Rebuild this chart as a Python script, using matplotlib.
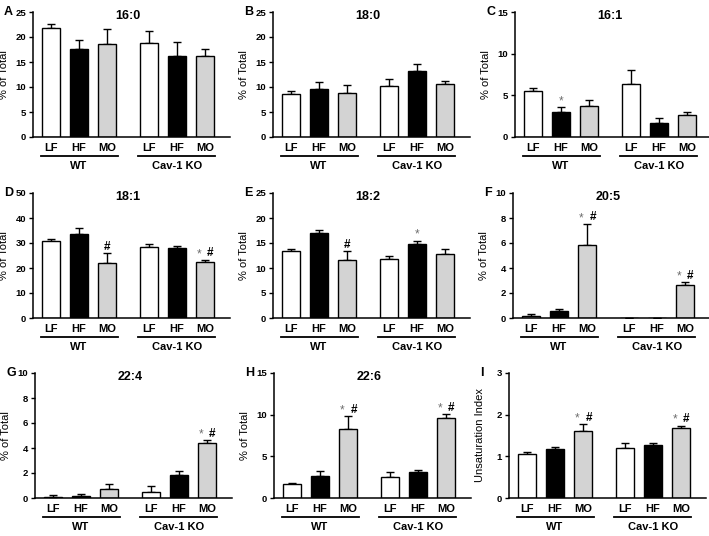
import numpy as np
import matplotlib
matplotlib.use("Agg")
import matplotlib.pyplot as plt

plt.rcParams['font.family'] = ['Liberation Sans', 'DejaVu Sans']
plt.rcParams['font.weight'] = 'bold'

diets = ["LF", "HF", "MO", "LF", "HF", "MO"]
groups = ["WT", "Cav-1 KO"]
bar_colors = ["white", "black", "#d3d3d3"] * 2

# order of values: WT LF, WT HF, WT MO, KO LF, KO HF, KO MO
fa_16_0 = [21.9, 17.7, 18.7, 18.9, 16.3, 16.3]
fa_16_0_err = [0.8, 1.8, 3.0, 2.4, 2.6, 1.3]
fa_18_0 = [8.7, 9.7, 8.9, 10.3, 13.3, 10.6]
fa_18_0_err = [0.5, 1.4, 1.5, 1.4, 1.3, 0.7]
fa_16_1 = [5.48, 3.0, 3.68, 6.32, 1.72, 2.6]
fa_16_1_err = [0.4, 0.6, 0.8, 1.76, 0.6, 0.36]
fa_18_1 = [30.7, 33.5, 22.0, 28.3, 28.0, 22.4]
fa_18_1_err = [1.0, 2.4, 4.0, 1.3, 0.9, 0.9]
fa_18_2 = [13.4, 17.1, 11.6, 11.8, 14.8, 12.9]
fa_18_2_err = [0.5, 0.5, 1.8, 0.6, 0.7, 0.9]
fa_20_5 = [0.19, 0.53, 5.82, 0.0, 0.0, 2.65]
fa_20_5_err = [0.13, 0.18, 1.72, 0.0, 0.0, 0.21]
fa_22_4 = [0.08, 0.13, 0.74, 0.48, 1.88, 4.37]
fa_22_4_err = [0.16, 0.21, 0.4, 0.52, 0.26, 0.26]
fa_22_6 = [1.63, 2.62, 8.29, 2.58, 3.10, 9.64]
fa_22_6_err = [0.16, 0.67, 1.55, 0.59, 0.31, 0.4]
unsat_index = [1.06, 1.17, 1.61, 1.20, 1.28, 1.69]
unsat_index_err = [0.04, 0.06, 0.16, 0.11, 0.05, 0.05]

positions = np.array([0, 1, 2, 3.5, 4.5, 5.5])

# letter, title, ylabel, ymax, ystep, values, errors, star idx, hash idx, axes box (left, top px)
panels = [
    ("A", "16:0", "% of Total", 25, 5, fa_16_0, fa_16_0_err, [], [], (33, 12)),
    ("B", "18:0", "% of Total", 25, 5, fa_18_0, fa_18_0_err, [], [], (273, 12)),
    ("C", "16:1", "% of Total", 15, 5, fa_16_1, fa_16_1_err, [1], [], (515, 12)),
    ("D", "18:1", "% of Total", 50, 10, fa_18_1, fa_18_1_err, [5], [2, 5], (33, 193)),
    ("E", "18:2", "% of Total", 25, 5, fa_18_2, fa_18_2_err, [4], [2], (273, 193)),
    ("F", "20:5", "% of Total", 10, 2, fa_20_5, fa_20_5_err, [2, 5], [2, 5], (513, 193)),
    ("G", "22:4", "% of Total", 10, 2, fa_22_4, fa_22_4_err, [5], [5], (35, 373)),
    ("H", "22:6", "% of Total", 15, 5, fa_22_6, fa_22_6_err, [2, 5], [2, 5], (274, 373)),
    ("I", "", "Unsaturation Index", 3, 1, unsat_index, unsat_index_err, [2, 5], [2, 5], (509, 373)),
]

W, H = 709, 536
fig = plt.figure(figsize=(W / 100, H / 100), dpi=100)
ax_w, ax_h = 197, 125

for letter, title, ylabel, ymax, ystep, vals, errs, stars, hashes, (lx, ty) in panels:
    ax = fig.add_axes([lx / W, 1 - (ty + ax_h) / H, ax_w / W, ax_h / H])
    ax.bar(positions, vals, width=0.66, color=bar_colors, edgecolor="black",
           linewidth=1.0, zorder=2)
    ax.errorbar(positions, vals, yerr=[np.zeros(6), errs], fmt="none",
                ecolor="black", elinewidth=1.0, capsize=3, capthick=1.0, zorder=1)
    ax.set_xlim(-0.65, 6.4)
    ax.set_ylim(0, ymax)
    ax.set_yticks(np.arange(0, ymax + ystep / 2, ystep))
    ax.set_xticks(positions, diets)
    ax.tick_params(axis="x", length=0, pad=4, labelsize=8)
    ax.tick_params(axis="y", length=3, width=1.0, labelsize=6.8, pad=2)
    for s in ["top", "right"]:
        ax.spines[s].set_visible(False)
    for s in ["left", "bottom"]:
        ax.spines[s].set_linewidth(1.1)
    ax.set_ylabel(ylabel, fontsize=8)
    ax.yaxis.set_label_coords(-0.12, 0.5)
    if title:
        ax.text(2.75, 0.965, title, transform=ax.get_xaxis_transform(),
                ha="center", va="center", fontsize=9)

    # group underline and label
    tr = ax.get_xaxis_transform()
    for g, (a, b) in enumerate([(0, 2), (3, 5)]):
        x0, x1 = positions[a] - 0.38, positions[b] + 0.38
        ax.plot([x0, x1], [-0.152, -0.152], color="black", lw=1.3,
                transform=tr, clip_on=False)
        ax.text((x0 + x1) / 2, -0.235, groups[g], transform=tr,
                ha="center", va="center", fontsize=8)

    # significance marks
    for i in range(6):
        top = vals[i] + errs[i]
        has_s, has_h = i in stars, i in hashes
        if has_s and has_h:
            xs, xh = positions[i] - 0.2, positions[i] + 0.2
        else:
            xs = xh = positions[i]
        if has_s:
            ax.annotate("*", (xs, top), xytext=(0, 2), textcoords="offset points",
                        ha="center", va="baseline", fontsize=8.5,
                        fontweight="normal", color="#6e6e6e")
        if has_h:
            ax.annotate("#", (xh, top), xytext=(0, 2.5), textcoords="offset points",
                        ha="center", va="baseline", fontsize=8.5, color="black")

    fig.text((lx - 29) / W, 1 - (ty - 6) / H, letter, fontsize=9,
             ha="left", va="top")

fig.savefig("out.png", dpi=100)
